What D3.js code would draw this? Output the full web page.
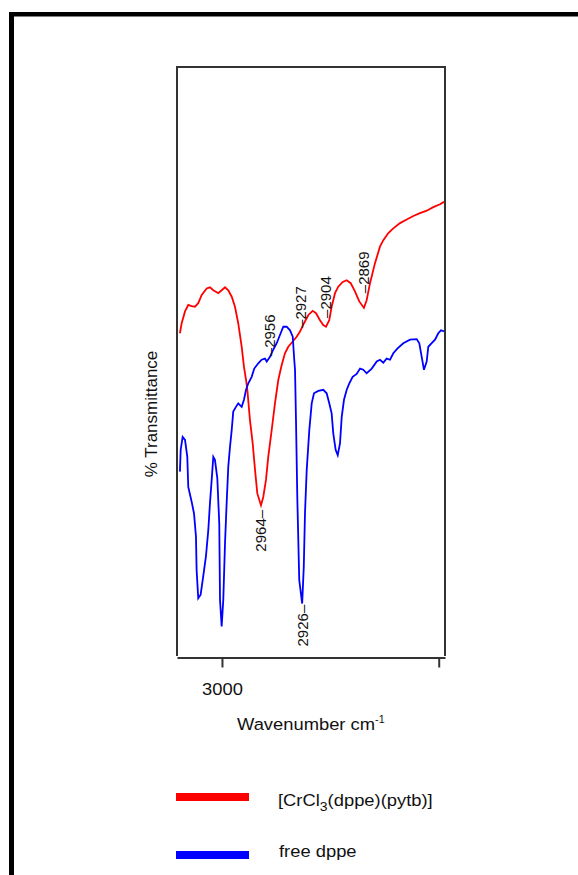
<!DOCTYPE html>
<html>
<head>
<meta charset="utf-8">
<script src="https://cdn.jsdelivr.net/npm/d3@7"></script>
<style>
  html, body { margin: 0; padding: 0; background: #fff; }
  svg { display: block; }
  text { font-family: "Liberation Sans", Arial, sans-serif; fill: #111; }
</style>
</head>
<body>
<script>
// IR spectra, C–H stretching region: [wavenumber (cm-1), % transmittance]
const complexSpectrum = [
  [3038.8,54.8],[3037.2,56.5],[3034.1,58.5],[3031.1,59.6],[3028.0,59.4],[3024.9,59.3],
  [3021.9,59.9],[3018.7,61.3],[3014.1,62.4],[3011.1,62.6],[3008.0,62.1],[3003.4,61.6],
  [3000.3,62.1],[2997.2,62.6],[2994.2,62.1],[2991.0,61.0],[2988.0,59.3],[2985.0,56.5],
  [2981.8,52.5],[2979.7,49.1],[2977.8,46.9],[2976.6,45.2],[2974.2,40.1],[2971.7,36.2],
  [2969.5,31.6],[2967.4,27.6],[2964.0,25.6],[2961.9,27.0],[2959.4,29.9],[2957.3,33.8],
  [2954.1,38.4],[2951.1,42.9],[2948.0,46.9],[2944.9,49.4],[2941.9,51.4],[2938.8,52.5],
  [2934.7,53.4],[2931.1,54.2],[2928.0,55.1],[2924.3,56.5],[2920.3,57.9],[2916.3,58.6],
  [2913.2,58.2],[2909.6,57.0],[2906.5,56.2],[2904.0,55.9],[2901.0,57.0],[2898.8,59.3],
  [2895.7,61.6],[2892.7,62.7],[2888.6,63.5],[2884.9,63.8],[2881.2,63.3],[2877.3,61.9],
  [2873.3,60.2],[2869.0,59.1],[2866.5,60.4],[2863.4,63.3],[2858.8,66.7],[2854.2,69.5],
  [2851.1,70.6],[2846.5,71.8],[2841.9,72.6],[2835.7,73.5],[2829.5,74.1],[2823.4,74.7],
  [2817.3,75.2],[2811.1,75.6],[2805.0,76.2],[2798.8,76.7],[2795.1,77.1]
];

const ligandSpectrum = [
  [3038.8,31.3],[3038.1,35.0],[3036.3,37.2],[3034.1,36.7],[3032.0,33.8],[3031.1,28.7],
  [3028.0,26.2],[3025.8,24.2],[3024.0,20.3],[3023.4,14.6],[3021.9,9.8],[3019.7,10.4],
  [3017.3,13.5],[3014.8,16.9],[3012.6,21.4],[3011.1,25.9],[3009.5,29.9],[3008.0,33.8],
  [3006.5,33.3],[3004.3,30.2],[3002.5,22.5],[3001.8,9.5],[3000.3,5.0],[2998.8,9.5],
  [2997.2,19.1],[2995.7,25.9],[2994.2,32.1],[2992.6,35.5],[2991.0,38.4],[2989.6,41.5],
  [2987.1,42.3],[2985.0,42.9],[2981.8,42.3],[2979.7,43.5],[2977.8,45.2],[2975.7,46.3],
  [2972.6,47.4],[2970.2,48.8],[2966.5,49.7],[2963.4,50.3],[2960.3,50.5],[2958.7,50.0],
  [2955.7,50.8],[2952.7,52.0],[2949.5,53.1],[2946.5,54.5],[2943.4,55.9],[2940.3,55.9],
  [2937.2,55.3],[2934.7,54.2],[2933.3,50.3],[2932.6,48.6],[2931.7,40.1],[2930.5,27.0],
  [2928.7,12.9],[2926.0,8.9],[2924.5,15.2],[2923.4,24.2],[2921.8,31.6],[2919.4,38.4],
  [2917.2,42.9],[2915.1,44.6],[2911.1,45.0],[2906.5,45.2],[2903.4,44.6],[2901.0,42.9],
  [2898.8,41.2],[2897.3,37.8],[2895.1,35.0],[2893.2,34.1],[2891.1,36.1],[2889.5,40.6],
  [2887.4,43.5],[2884.9,45.2],[2882.5,46.3],[2879.4,47.4],[2875.7,47.9],[2872.6,48.8],
  [2869.6,48.6],[2866.5,48.0],[2861.8,48.8],[2857.2,50.0],[2854.2,50.3],[2851.1,49.8],
  [2848.0,50.5],[2844.9,50.3],[2841.9,51.4],[2838.2,52.2],[2832.7,53.1],[2826.5,53.7],
  [2820.3,53.8],[2817.9,53.1],[2815.7,50.8],[2813.6,48.6],[2811.1,50.0],[2809.6,52.5],
  [2806.5,53.1],[2803.4,53.7],[2800.4,54.8],[2797.9,55.3],[2795.1,55.1]
];

// Peak annotations: wavenumber, anchor level (% T), side of the curve
const peakWavenumbers = [2964, 2926, 2956, 2927, 2904, 2869];
const peakLevels      = [24.8, 8.7, 50.9, 55.7, 57.4, 61.6];
const peakSides       = ["below", "below", "above", "above", "above", "above"];

const xTickValues = [3000, 2800];
const xTickLabels = ["3000", ""];
const xDomain = [3041.5, 2794.2];
const yDomain = [0, 100];

const seriesNames  = ["[CrCl", "free dppe"];
const seriesColors = ["#ff0000", "#0000ff"];

const W = 578, H = 875;
const box = { left: 177, right: 445, top: 67, bottom: 656 };
const stretch = "scale(1.08,1)";   // slightly wide lettering for horizontal text

const svg = d3.select("body").append("svg")
  .attr("width", W).attr("height", H);

svg.append("rect").attr("width", W).attr("height", H).attr("fill", "#fff");

// heavy frame along the top and left edges
svg.append("rect").attr("x", 9).attr("y", 12).attr("width", W - 9).attr("height", 4.5).attr("fill", "#000");
svg.append("rect").attr("x", 9).attr("y", 12).attr("width", 5).attr("height", H - 12).attr("fill", "#000");

const x = d3.scaleLinear().domain(xDomain).range([box.left, box.right]);
const y = d3.scaleLinear().domain(yDomain).range([box.bottom, box.top]);

// plot frame: left, top and right sides
svg.append("path")
  .attr("d", `M${box.left},${box.bottom}V${box.top}H${box.right}V${box.bottom}`)
  .attr("fill", "none").attr("stroke", "#333").attr("stroke-width", 2);

// x axis
const xAxis = d3.axisBottom(x)
  .tickValues(xTickValues)
  .tickFormat((d, i) => xTickLabels[i])
  .tickSize(10).tickSizeOuter(0).tickPadding(15);

const gx = svg.append("g")
  .attr("transform", `translate(0,${box.bottom + 1.5})`)
  .call(xAxis);
gx.select(".domain").attr("stroke", "#333").attr("stroke-width", 2);
gx.selectAll(".tick line").attr("stroke", "#333").attr("stroke-width", 2);
gx.selectAll(".tick text")
  .attr("transform", stretch)
  .style("font-family", "'Liberation Sans', Arial, sans-serif")
  .style("font-size", "17px").attr("fill", "#222");

// spectra
const line = d3.line().x(d => x(d[0])).y(d => y(d[1]));
const plot = svg.append("g");
[complexSpectrum, ligandSpectrum].forEach((s, i) => {
  plot.append("path")
    .datum(s)
    .attr("d", line)
    .attr("fill", "none")
    .attr("stroke", seriesColors[i])
    .attr("stroke-width", 1.8)
    .attr("stroke-linejoin", "miter");
});

// peak labels, rotated to read upward
peakWavenumbers.forEach((w, i) => {
  const above = peakSides[i] === "above";
  svg.append("text")
    .attr("transform", `translate(${x(w)},${y(peakLevels[i])}) rotate(-90)`)
    .attr("dy", "0.36em")
    .attr("text-anchor", above ? "start" : "end")
    .style("font-size", "15px")
    .text(above ? "\u2013" + w : w + "\u2013");
});

// axis titles
svg.append("text")
  .attr("transform", "translate(151,414) rotate(-90)")
  .attr("dy", "0.36em")
  .attr("text-anchor", "middle")
  .style("font-size", "17px")
  .text("% Transmittance");

const xt = svg.append("text")
  .attr("transform", `translate(237,730) ${stretch}`)
  .style("font-size", "17px")
  .text("Wavenumber cm");
xt.append("tspan").attr("dy", -7).style("font-size", "10px").text("-1");

// legend
const legendY = [797, 855];
seriesColors.forEach((c, i) => {
  svg.append("rect")
    .attr("x", 176).attr("y", legendY[i] - 4)
    .attr("width", 73).attr("height", 8)
    .attr("fill", c);
});

const l1 = svg.append("text")
  .attr("transform", `translate(278,${legendY[0] + 8.5}) ${stretch}`)
  .style("font-size", "17px");
l1.append("tspan").text(seriesNames[0]);
l1.append("tspan").attr("dy", 5).style("font-size", "13px").text("3");
l1.append("tspan").attr("dy", -5).text("(dppe)(pytb)]");

svg.append("text")
  .attr("transform", `translate(279,${legendY[1] + 1.5}) ${stretch}`)
  .style("font-size", "17px").text(seriesNames[1]);
</script>
</body>
</html>
